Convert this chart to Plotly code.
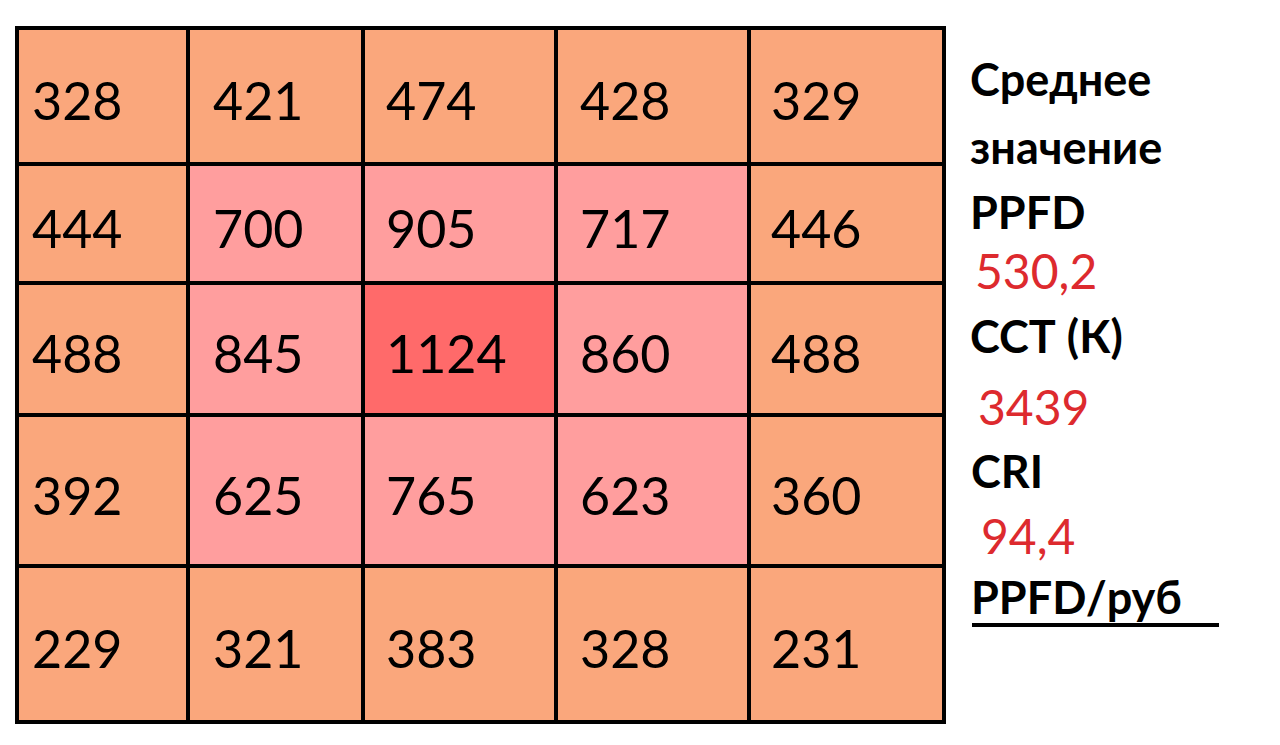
import plotly.graph_objects as go

# ---------------- data ----------------
ppfd_rows = [
    [328, 421, 474, 428, 329],
    [444, 700, 905, 717, 446],
    [488, 845, 1124, 860, 488],
    [392, 625, 765, 623, 360],
    [229, 321, 383, 328, 231],
]
side_labels = ["Среднее", "значение", "PPFD", "530,2", "ССТ (К)", "3439", "CRI", "94,4", "PPFD/руб"]
side_is_value = [False, False, False, True, False, True, False, True, False]

# colour thresholds (PPFD levels)
low_limit = 550
high_limit = 1000

# ---------------- layout constants ----------------
W, H = 1280, 745
OFF = 8  # page body margin
COL_EDGES = [17, 188, 363, 556, 749, 944]
ROW_EDGES = [28, 164, 283, 415, 566, 722]
TEXT_PAD = [13, 23, 21, 22, 20]
TEXT_DY = 4
SIDE_X = 968
SIDE_Y = [79, 147, 212, 270, 336, 406, 471, 535, 597]
SIDE_DX = [0, 0, 0, 5, 0, 8, 1, 11, 1]

ORANGE = "#FAA77C"
PINK = "#FF9E9E"
RED = "#FF6A6A"
VAL_RED = "#DD2A2E"
FONT = "Lato, 'Open Sans', sans-serif"

zmin = min(min(r) for r in ppfd_rows)
zmax = max(max(r) for r in ppfd_rows)
t1 = (low_limit - zmin) / (zmax - zmin)
t2 = (high_limit - zmin) / (zmax - zmin)
cscale = [[0, ORANGE], [t1, ORANGE], [t1, PINK], [t2, PINK], [t2, RED], [1, RED]]

fig = go.Figure()
fig.add_trace(go.Heatmap(
    z=ppfd_rows, x=COL_EDGES, y=ROW_EDGES,
    colorscale=cscale, zmin=zmin, zmax=zmax,
    showscale=False, hoverinfo="z",
))

shapes = []
for xe in COL_EDGES:
    shapes.append(dict(type="line", x0=xe, x1=xe, y0=ROW_EDGES[0] - 2, y1=ROW_EDGES[-1] + 2,
                       line=dict(color="black", width=4), layer="above"))
for ye in ROW_EDGES:
    shapes.append(dict(type="line", x0=COL_EDGES[0] - 2, x1=COL_EDGES[-1] + 2, y0=ye, y1=ye,
                       line=dict(color="black", width=4), layer="above"))

annotations = []
for i, row in enumerate(ppfd_rows):
    yc = (ROW_EDGES[i] + ROW_EDGES[i + 1]) / 2 + TEXT_DY
    for j, v in enumerate(row):
        annotations.append(dict(
            x=COL_EDGES[j] + TEXT_PAD[j], y=yc, text=str(v), showarrow=False,
            xanchor="left", yanchor="middle",
            font=dict(family=FONT, size=52, color="black"),
        ))

for lab, isval, yy, dx in zip(side_labels, side_is_value, SIDE_Y, SIDE_DX):
    if isval:
        font = dict(family=FONT, size=48, color=VAL_RED)
        txt = lab
    else:
        font = dict(family=FONT, size=45, color="black", weight="bold")
        txt = "<b>" + lab + "</b>"
    annotations.append(dict(x=SIDE_X + dx, y=yy, text=txt, showarrow=False,
                            xanchor="left", yanchor="middle", font=font))

# underline of last label
shapes.append(dict(type="line", x0=SIDE_X + 4, x1=1219, y0=625, y1=625,
                   line=dict(color="black", width=4)))

fig.update_layout(
    width=W, height=H, margin=dict(l=0, r=0, t=0, b=0),
    paper_bgcolor="white", plot_bgcolor="white",
    xaxis=dict(range=[OFF, W + OFF], visible=False, fixedrange=True),
    yaxis=dict(range=[H + OFF, OFF], visible=False, fixedrange=True),
    shapes=shapes, annotations=annotations, showlegend=False,
)

fig.write_html("out.html")
